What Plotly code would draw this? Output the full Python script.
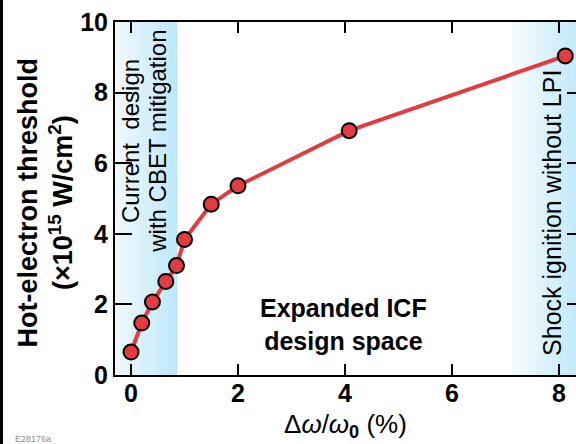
import numpy as np
import plotly.graph_objects as go

# Hot-electron threshold versus laser bandwidth
bandwidth_pct = [0.0, 0.2, 0.4, 0.65, 0.85, 1.0, 1.5, 2.0, 4.08, 8.12]
threshold = [0.65, 1.47, 2.07, 2.65, 3.1, 3.84, 4.84, 5.36, 6.92, 9.04]

x_ticks = [0, 2, 4, 6, 8]
y_ticks = [0, 2, 4, 6, 8, 10]

x_range = [-0.3, 8.32]
y_range = [0, 10]

# shaded design regions (in % bandwidth)
cbet_band = (-0.3, 0.86)
shock_band = (7.12, 8.32)

FONT = "Liberation Sans, Arial, Helvetica, sans-serif"
RED = "rgb(226,60,64)"

fig = go.Figure()

fig.add_trace(go.Scatter(
    x=bandwidth_pct, y=threshold, mode="lines+markers",
    line=dict(color=RED, width=4),
    marker=dict(size=15, color=RED, line=dict(color="black", width=2)),
    showlegend=False, cliponaxis=False,
))
# invisible trace to drive the right-hand tick axis
fig.add_trace(go.Scatter(x=[bandwidth_pct[0]], y=[threshold[0]], yaxis="y2",
                         mode="markers", marker=dict(opacity=0),
                         showlegend=False, hoverinfo="skip"))


def gradient_band(x0, x1, c_start, c_end, n=40):
    edges = np.linspace(x0, x1, n + 1)
    shapes = []
    for i in range(n):
        t = i / (n - 1)
        c = [round(a + (b - a) * t) for a, b in zip(c_start, c_end)]
        shapes.append(dict(type="rect", xref="x", yref="y", layer="below",
                           x0=edges[i], x1=edges[i + 1], y0=y_range[0], y1=y_range[1],
                           fillcolor=f"rgb({c[0]},{c[1]},{c[2]})", line=dict(width=0)))
    return shapes


shapes = []
shapes += gradient_band(*cbet_band, (238, 248, 253), (182, 229, 249))
shapes += gradient_band(*shock_band, (246, 251, 254), (188, 232, 250))
# dark strip along the left edge of the page
shapes.append(dict(type="rect", xref="paper", yref="paper",
                   x0=-115 / 461, x1=-112 / 461, y0=-69 / 353, y1=1 + 22 / 353,
                   fillcolor="black", line=dict(width=0)))

annotations = [
    dict(text="Hot-electron threshold<br>(×10<sup>15</sup> W/cm<sup>2</sup>)",
         xref="paper", yref="paper", x=-0.151, y=0.49, textangle=-90,
         showarrow=False, xanchor="center", yanchor="middle",
         font=dict(family=FONT, size=27, color="black", weight="bold")),
    dict(text="Δ<i>ω</i>/<i>ω</i><sub><b>0</b></sub> (%)",
         xref="paper", yref="paper", x=0.499, y=-0.142,
         showarrow=False, xanchor="center", yanchor="middle",
         font=dict(family=FONT, size=26, color="black")),
    dict(text="Current\u00a0 design", x=0.0, y=6.63, textangle=-90,
         showarrow=False, xanchor="center", yanchor="middle",
         font=dict(family=FONT, size=24, color="black")),
    dict(text="with CBET mitigation", x=0.5, y=6.63, textangle=-90,
         showarrow=False, xanchor="center", yanchor="middle",
         font=dict(family=FONT, size=24, color="black")),
    dict(text="Shock ignition without LPI", x=7.87, y=4.59, textangle=-90,
         showarrow=False, xanchor="center", yanchor="middle",
         font=dict(family=FONT, size=25, color="black")),
    dict(text="Expanded ICF<br>design space", x=3.98, y=1.44,
         showarrow=False, xanchor="center", yanchor="middle",
         font=dict(family=FONT, size=25, color="black", weight="bold")),
    dict(text="E28176a", xref="paper", yref="paper", x=33 / 461 - 115 / 461, y=-64 / 353,
         showarrow=False, xanchor="center", yanchor="middle",
         font=dict(family=FONT, size=9, color="rgb(140,140,140)")),
]

fig.update_layout(
    width=576, height=444,
    margin=dict(l=115, r=0, t=22, b=69),
    plot_bgcolor="white", paper_bgcolor="white",
    shapes=shapes, annotations=annotations,
    xaxis=dict(range=x_range, tickvals=x_ticks, ticks="inside", ticklen=11, tickwidth=1.5,
               tickcolor="black", showline=True, linecolor="black", linewidth=2,
               mirror="ticks", showgrid=False, zeroline=False, ticklabelstandoff=-5,
               tickfont=dict(family=FONT, size=25, color="black", weight="bold")),
    yaxis=dict(range=y_range, tickvals=y_ticks, ticks="inside", ticklen=17, tickwidth=1.5,
               tickcolor="black", showline=True, linecolor="black", linewidth=2,
               showgrid=False, zeroline=False,
               tickfont=dict(family=FONT, size=25, color="black", weight="bold")),
    yaxis2=dict(range=y_range, tickvals=y_ticks, overlaying="y", side="right",
                ticks="inside", ticklen=9, tickwidth=1.5, tickcolor="black",
                showline=False, showgrid=False, zeroline=False, showticklabels=False),
)

fig.write_html("out.html")
